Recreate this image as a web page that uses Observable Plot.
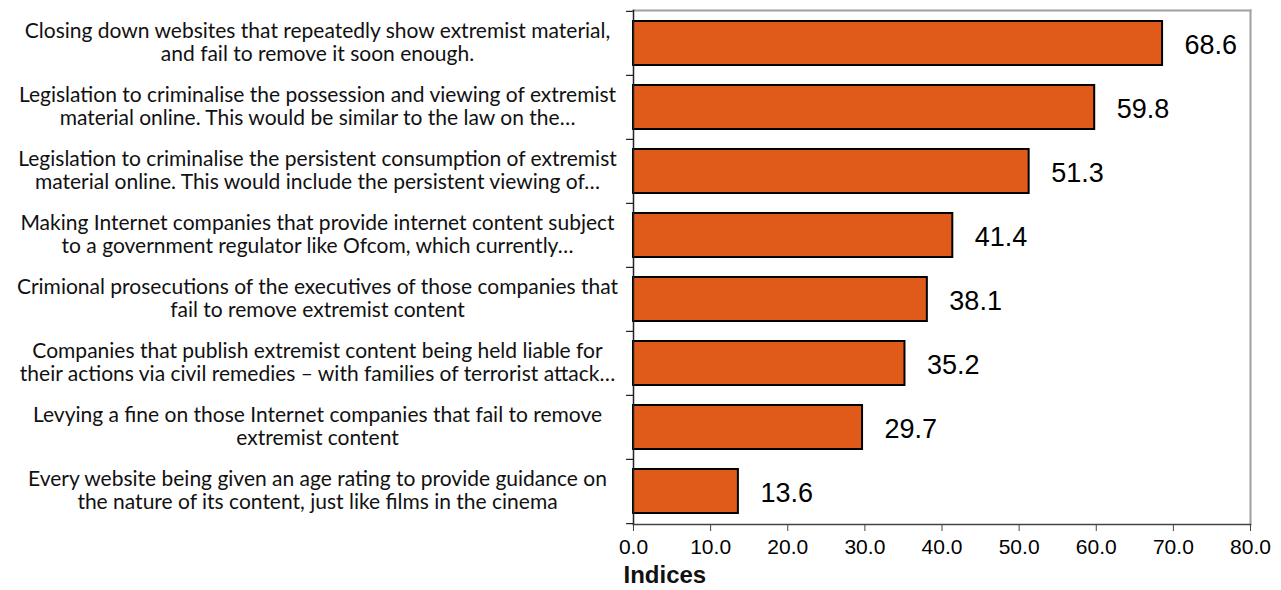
<!DOCTYPE html>
<html>
<head>
<meta charset="utf-8">
<script src="https://cdn.jsdelivr.net/npm/d3@7"></script>
<script src="https://cdn.jsdelivr.net/npm/@observablehq/plot@0.6"></script>
<style>
  html, body { margin: 0; padding: 0; background: #fff; }
  #chart svg { display: block; }
</style>
</head>
<body>
<div id="chart"></div>
<script>
const categories = [
  "Closing down websites that repeatedly show extremist material,\nand fail to remove it soon enough.",
  "Legislation to criminalise the possession and viewing of extremist\nmaterial online. This would be similar to the law on the…",
  "Legislation to criminalise the persistent consumption of extremist\nmaterial online. This would include the persistent viewing of…",
  "Making Internet companies that provide internet content subject\nto a government regulator like Ofcom, which currently…",
  "Crimional prosecutions of the executives of those companies that\nfail to remove extremist content",
  "Companies that publish extremist content being held liable for\ntheir actions via civil remedies – with families of terrorist attack…",
  "Levying a fine on those Internet companies that fail to remove\nextremist content",
  "Every website being given an age rating to provide guidance on\nthe nature of its content, just like films in the cinema"
];
const values = [68.6, 59.8, 51.3, 41.4, 38.1, 35.2, 29.7, 13.6];
const xTicks = [0, 10, 20, 30, 40, 50, 60, 70, 80];
const axisTitle = "Indices";

const data = categories.map((c, i) => ({category: c, value: values[i]}));

const W = 1281, H = 590;
const mTop = 10, mBottom = 66, mLeft = 633, mRight = 31;
const band = (H - mTop - mBottom) / categories.length;

const chart = Plot.plot({
  width: W,
  height: H,
  marginTop: mTop,
  marginBottom: mBottom,
  marginLeft: mLeft,
  marginRight: mRight,
  style: {fontFamily: "Liberation Sans, Arial, sans-serif", background: "#fff"},
  x: {domain: [0, 80]},
  y: {domain: categories, paddingInner: 0.32, paddingOuter: 0.16, axis: null},
  marks: [
    Plot.barX(data, {y: "category", x: "value", fill: "#E05A1A", stroke: "#000", strokeWidth: 2}),
    Plot.text(data, {y: "category", x: "value", text: d => d.value.toFixed(1), textAnchor: "start", dx: 22, dy: 2,
      fontSize: 27, fill: "#000", fontFamily: "Liberation Sans, Arial, sans-serif"}),
    Plot.text(data, {y: "category", frameAnchor: "left", text: "category", textAnchor: "middle", dx: -316, dy: -1,
      fontSize: 21, lineHeight: 1.08, fill: "#111", fontFamily: "Lato, sans-serif"}),
    // band boundary ticks on the y axis
    Plot.ruleY(data, {y: "category", x1: -0.9, x2: 0, dy: -band / 2, stroke: "#222", strokeWidth: 1.2}),
    Plot.ruleY(data.slice(-1), {y: "category", x1: -0.9, x2: 0, dy: band / 2, stroke: "#222", strokeWidth: 1.2}),
    Plot.frame({anchor: "top", stroke: "#a0a0a0", strokeWidth: 2}),
    Plot.frame({anchor: "right", stroke: "#a0a0a0", strokeWidth: 2}),
    Plot.frame({anchor: "bottom", stroke: "#444", strokeWidth: 1.5}),
    Plot.frame({anchor: "left", stroke: "#222", strokeWidth: 1.5}),
    Plot.axisX({ticks: xTicks, tickFormat: d => d.toFixed(1), tickSize: 7, tickPadding: 8, fontSize: 21,
      label: null, stroke: "#444"}),
    Plot.text([axisTitle], {frameAnchor: "bottom-left", dx: -10, dy: 58, textAnchor: "start",
      fontSize: 24, fontWeight: "bold", fill: "#111", fontFamily: "Liberation Sans, Arial, sans-serif"})
  ]
});
document.getElementById("chart").appendChild(chart);
</script>
</body>
</html>
